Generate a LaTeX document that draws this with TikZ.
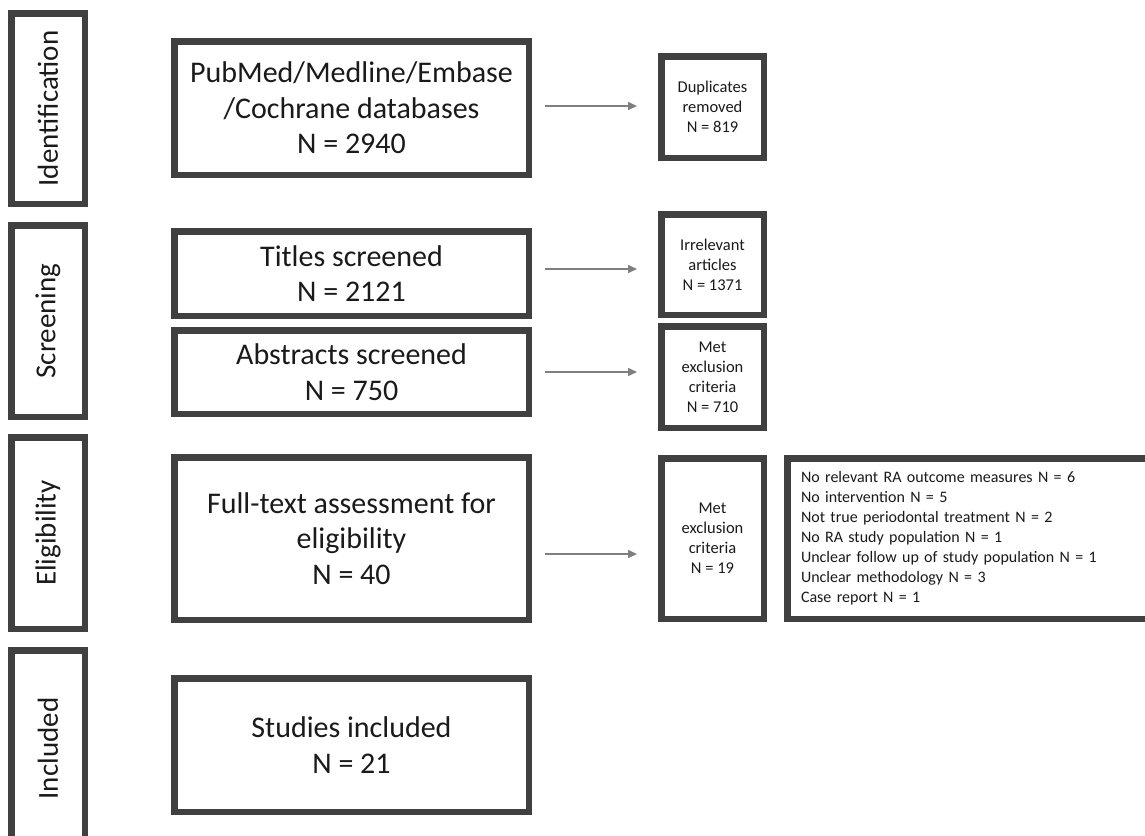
\documentclass[tikz,border=0pt]{standalone}
\usepackage{fontspec}
\setmainfont{Carlito}
\usetikzlibrary{arrows.meta}
\definecolor{bord}{HTML}{404040}
\definecolor{arrc}{HTML}{7F7F7F}
\definecolor{txt}{HTML}{1A1A1A}
\begin{document}
\begin{tikzpicture}[x=1pt,y=-1pt,
  box/.style={draw=bord, line width=6.5pt, fill=white, inner sep=0pt, align=center, text=txt},
  stagebox/.style={box, rotate=90, minimum height=73.5pt, font=\fontsize{29}{34}\selectfont},
  mainbox/.style={box, minimum width=354.5pt, font=\fontsize{30}{35.5}\selectfont},
  smallbox/.style={box, minimum width=102.5pt, font=\fontsize{16.5}{20}\selectfont},
  listbox/.style={box, align=left, text width=334pt, inner xsep=13.75pt, minimum height=160.5pt, font=\fontsize{16}{20}\selectfont},
  arr/.style={draw=arrc, line width=1.5pt, -{Triangle[length=9pt,width=8pt]}, shorten <=13pt, shorten >=21pt}
]
\useasboundingbox (0,0) rectangle (1145,835);

% stage labels
\node[stagebox, minimum width=190.5pt] (sid) at (48,108.5) {Identification};
\node[stagebox, minimum width=191.5pt] (ssc) at (48,321) {Screening};
\node[stagebox, minimum width=191.5pt] (sel) at (48,533) {Eligibility};
\node[stagebox, minimum width=196.5pt] (sin) at (48,748.5) {Included};

% main boxes
\node[mainbox, minimum height=133.5pt] (pub) at (351.5,108) {PubMed/Medline/Embase\\/Cochrane databases\\N = 2940};
\node[mainbox, minimum height=84.5pt] (tit) at (351.5,273.5) {Titles screened\\N = 2121};
\node[mainbox, minimum height=83.5pt] (abs) at (351.5,372) {Abstracts screened\\N = 750};
\node[mainbox, minimum height=162.5pt] (ful) at (351.5,538.5) {Full-text assessment for\\eligibility\\N = 40};
\node[mainbox, minimum height=133.5pt] (stu) at (351.5,745) {Studies included\\N = 21};

% exclusion boxes
\node[smallbox, minimum height=101.5pt] (dup) at (712.5,107) {Duplicates\\removed\\N = 819};
\node[smallbox, minimum height=100.5pt] (irr) at (712.5,264.5) {Irrelevant\\articles\\N = 1371};
\node[smallbox, minimum height=101.5pt] (mea) at (712.5,377) {Met\\exclusion\\criteria\\N = 710};
\node[smallbox, minimum height=160.5pt] (meb) at (712.5,538.5) {Met\\exclusion\\criteria\\N = 19};

\node[listbox] (lst) at (968,538.5) {No relevant RA outcome measures N = 6\\
No intervention N = 5\\
Not true periodontal treatment N = 2\\
No RA study population N = 1\\
Unclear follow up of study population N = 1\\
Unclear methodology N = 3\\
Case report N = 1};

% arrows
\draw[arr] ([yshift=2pt]pub.east) -- ([yshift=2pt]pub.east -| dup.west);
\draw[arr] ([yshift=4.5pt]tit.east) -- ([yshift=4.5pt]tit.east -| irr.west);
\draw[arr] (abs.east) -- (abs.east -| mea.west);
\draw[arr] ([yshift=-15.5pt]ful.east) -- ([yshift=-15.5pt]ful.east -| meb.west);
\end{tikzpicture}
\end{document}
